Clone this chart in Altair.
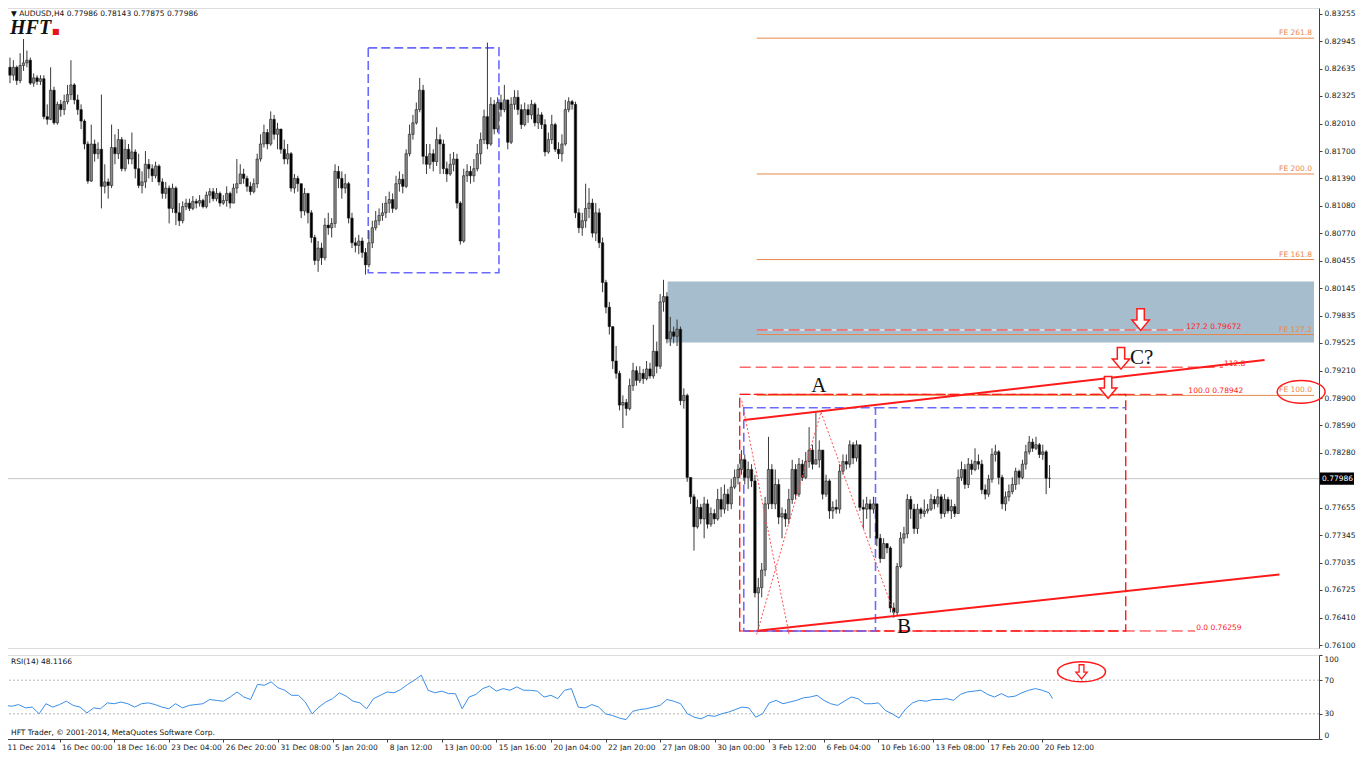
import altair as alt
import pandas as pd

# ---------------- data (AUDUSD, H4) ----------------
# prices are given in pips (price * 10000); open of each bar = previous close
first_open = 8265
close_pips = [
    8256, 8265, 8250, 8267, 8270, 8273, 8247, 8253, 8249, 8252,
    8209, 8206, 8239, 8202, 8223, 8217, 8226, 8234, 8245, 8228,
    8217, 8204, 8178, 8136, 8178, 8167, 8172, 8130, 8135, 8131,
    8174, 8167, 8183, 8150, 8172, 8161, 8169, 8150, 8131, 8135,
    8155, 8150, 8142, 8153, 8135, 8122, 8128, 8105, 8128, 8100,
    8091, 8107, 8111, 8105, 8113, 8111, 8114, 8107, 8120, 8124,
    8116, 8122, 8111, 8114, 8122, 8111, 8128, 8133, 8144, 8139,
    8130, 8124, 8133, 8161, 8178, 8191, 8178, 8206, 8189, 8195,
    8172, 8161, 8167, 8128, 8139, 8133, 8102, 8122, 8100, 8072,
    8046, 8060, 8049, 8086, 8083, 8088, 8147, 8139, 8128, 8133,
    8094, 8066, 8063, 8068, 8055, 8041, 8066, 8083, 8091, 8097,
    8100, 8111, 8115, 8105, 8133, 8138, 8130, 8167, 8189, 8202,
    8217, 8239, 8164, 8155, 8167, 8158, 8183, 8178, 8150, 8144,
    8155, 8161, 8111, 8068, 8142, 8147, 8142, 8150, 8167, 8183,
    8209, 8178, 8223, 8195, 8225, 8217, 8228, 8180, 8223, 8231,
    8217, 8200, 8217, 8211, 8223, 8202, 8211, 8200, 8169, 8183,
    8200, 8172, 8167, 8178, 8217, 8226, 8223, 8100, 8083, 8091,
    8105, 8111, 8077, 8100, 8066, 8021, 7993, 7971, 7932, 7918,
    7882, 7885, 7878, 7904, 7921, 7910, 7918, 7912, 7923, 7915,
    7943, 7926, 7999, 8005, 7957, 7965, 7960, 7968, 7887, 7893,
    7800, 7778, 7744, 7766, 7753, 7770, 7747, 7759, 7753, 7775,
    7764, 7781, 7770, 7789, 7800, 7809, 7820, 7800, 7809, 7796,
    7669, 7675, 7695, 7770, 7809, 7770, 7792, 7755, 7759, 7753,
    7775, 7809, 7781, 7815, 7800, 7818, 7831, 7815, 7820, 7831,
    7781, 7796, 7762, 7766, 7764, 7807, 7818, 7815, 7837, 7822,
    7837, 7766, 7764, 7770, 7764, 7770, 7731, 7708, 7725, 7720,
    7652, 7647, 7699, 7731, 7736, 7775, 7764, 7742, 7764, 7759,
    7762, 7764, 7775, 7770, 7778, 7759, 7775, 7762, 7767, 7759,
    7800, 7809, 7792, 7815, 7809, 7818, 7815, 7786, 7781, 7798,
    7826, 7829, 7800, 7770, 7778, 7784, 7792, 7807, 7800, 7815,
    7829, 7840, 7833, 7837, 7826, 7829, 7799, 7799,
]
high_pips = [
    8276, 8273, 8267, 8281, 8297, 8284, 8276, 8258, 8256, 8256,
    8256, 8223, 8265, 8243, 8226, 8228, 8234, 8245, 8273, 8247,
    8234, 8223, 8206, 8181, 8200, 8183, 8180, 8234, 8155, 8139,
    8200, 8189, 8195, 8186, 8183, 8178, 8191, 8172, 8167, 8147,
    8170, 8161, 8155, 8158, 8155, 8139, 8135, 8131, 8133, 8130,
    8111, 8113, 8116, 8116, 8119, 8116, 8120, 8116, 8124, 8128,
    8128, 8128, 8124, 8120, 8130, 8124, 8133, 8161, 8155, 8150,
    8142, 8135, 8139, 8167, 8189, 8200, 8195, 8215, 8211, 8202,
    8195, 8183, 8178, 8169, 8144, 8142, 8133, 8128, 8116, 8103,
    8075, 8068, 8066, 8094, 8100, 8094, 8155, 8153, 8147, 8144,
    8135, 8100, 8072, 8075, 8072, 8060, 8080, 8091, 8102, 8105,
    8111, 8119, 8124, 8122, 8142, 8147, 8144, 8172, 8200, 8211,
    8225, 8253, 8245, 8178, 8178, 8172, 8197, 8189, 8183, 8158,
    8167, 8169, 8167, 8113, 8150, 8155, 8153, 8161, 8178, 8191,
    8217, 8293, 8231, 8228, 8231, 8234, 8245, 8228, 8231, 8239,
    8239, 8223, 8225, 8223, 8228, 8225, 8219, 8214, 8206, 8191,
    8211, 8202, 8180, 8189, 8228, 8231, 8228, 8226, 8105, 8100,
    8133, 8128, 8116, 8111, 8105, 8072, 8024, 7999, 7971, 7949,
    7921, 7893, 7889, 7912, 7930, 7926, 7926, 7923, 7932, 7930,
    7973, 7954, 8008, 8024, 8010, 7982, 7971, 7979, 7971, 7901,
    7895, 7800, 7781, 7775, 7770, 7778, 7775, 7766, 7764, 7787,
    7789, 7792, 7787, 7798, 7809, 7815, 7831, 7826, 7818, 7815,
    7803, 7686, 7703, 7778, 7846, 7815, 7809, 7798, 7766, 7764,
    7787, 7820, 7815, 7822, 7820, 7829, 7857, 7837, 7874, 7842,
    7831, 7803, 7798, 7773, 7775, 7815, 7826, 7826, 7842, 7840,
    7842, 7837, 7775, 7778, 7775, 7778, 7770, 7736, 7731, 7725,
    7722, 7658, 7703, 7738, 7744, 7781, 7779, 7770, 7770, 7766,
    7775, 7770, 7781, 7779, 7787, 7781, 7781, 7778, 7775, 7770,
    7809, 7818, 7815, 7822, 7820, 7833, 7826, 7820, 7792, 7803,
    7833, 7837, 7831, 7803, 7784, 7792, 7800, 7811, 7809, 7820,
    7837, 7847, 7844, 7846, 7839, 7837, 7831, 7814,
]
low_pips = [
    8247, 8250, 8245, 8247, 8261, 8265, 8245, 8243, 8245, 8245,
    8206, 8200, 8205, 8200, 8200, 8209, 8211, 8223, 8228, 8223,
    8211, 8195, 8172, 8133, 8135, 8158, 8161, 8105, 8122, 8116,
    8128, 8155, 8161, 8147, 8147, 8155, 8155, 8139, 8128, 8122,
    8128, 8139, 8135, 8139, 8131, 8116, 8116, 8088, 8100, 8086,
    8085, 8088, 8103, 8102, 8103, 8105, 8107, 8105, 8105, 8111,
    8113, 8113, 8107, 8109, 8107, 8105, 8111, 8122, 8133, 8133,
    8124, 8120, 8122, 8128, 8158, 8174, 8172, 8176, 8183, 8172,
    8167, 8155, 8155, 8124, 8122, 8124, 8094, 8097, 8088, 8066,
    8041, 8033, 8041, 8046, 8075, 8072, 8083, 8128, 8116, 8122,
    8088, 8060, 8055, 8053, 8049, 8030, 8038, 8060, 8080, 8086,
    8091, 8094, 8100, 8100, 8103, 8124, 8122, 8128, 8164, 8183,
    8200, 8214, 8155, 8144, 8150, 8147, 8153, 8144, 8144, 8135,
    8142, 8147, 8105, 8064, 8066, 8135, 8133, 8135, 8147, 8155,
    8178, 8172, 8176, 8189, 8191, 8209, 8214, 8172, 8178, 8217,
    8211, 8195, 8198, 8202, 8206, 8198, 8195, 8195, 8164, 8167,
    8178, 8169, 8161, 8158, 8176, 8214, 8217, 8094, 8077, 8074,
    8083, 8094, 8072, 8068, 8060, 8010, 7986, 7962, 7923, 7912,
    7876, 7856, 7870, 7876, 7898, 7904, 7907, 7906, 7910, 7912,
    7912, 7918, 7923, 7988, 7952, 7949, 7952, 7949, 7882, 7878,
    7795, 7770, 7717, 7742, 7747, 7731, 7742, 7744, 7747, 7751,
    7755, 7759, 7762, 7764, 7787, 7792, 7803, 7792, 7787, 7789,
    7664, 7626, 7664, 7688, 7764, 7764, 7764, 7747, 7731, 7744,
    7747, 7770, 7775, 7778, 7796, 7798, 7811, 7809, 7815, 7811,
    7775, 7778, 7753, 7753, 7759, 7759, 7803, 7809, 7811, 7815,
    7818, 7762, 7742, 7753, 7731, 7759, 7722, 7703, 7708, 7714,
    7647, 7641, 7644, 7697, 7725, 7731, 7753, 7736, 7736, 7753,
    7755, 7759, 7762, 7764, 7766, 7753, 7755, 7759, 7753, 7755,
    7759, 7796, 7787, 7788, 7803, 7807, 7809, 7781, 7775, 7778,
    7794, 7818, 7792, 7764, 7762, 7773, 7781, 7786, 7792, 7798,
    7809, 7826, 7829, 7831, 7822, 7820, 7781, 7788,
]
# RSI(14), read every second bar (last value at the last bar)
rsi_values = [
    40, 39, 41, 37, 38, 30, 42, 38, 41, 45, 40, 38, 31, 37, 36, 43, 42, 44, 42, 38,
    42, 43, 41, 38, 36, 42, 37, 40, 41, 42, 47, 46, 45, 50, 56, 50, 47, 65, 64, 68,
    61, 58, 52, 52, 44, 30, 38, 44, 48, 55, 51, 45, 43, 36, 48, 52, 56, 55, 59, 65,
    70, 76, 58, 55, 57, 54, 54, 36, 50, 53, 60, 63, 57, 60, 58, 62, 58, 58, 57, 50,
    52, 48, 58, 60, 38, 37, 41, 38, 30, 28, 25, 23, 33, 35, 36, 38, 40, 47, 45, 42,
    30, 26, 24, 28, 27, 30, 32, 35, 38, 37, 26, 30, 43, 46, 42, 44, 46, 49, 50, 52,
    46, 42, 40, 45, 50, 48, 42, 42, 43, 34, 30, 25, 36, 43, 46, 45, 47, 47, 48, 46,
    53, 56, 57, 58, 53, 50, 54, 50, 51, 55, 58, 60, 58, 55, 48.1166,
]
time_labels = ["11 Dec 2014", "16 Dec 00:00", "18 Dec 16:00", "23 Dec 04:00", "26 Dec 20:00",
               "31 Dec 08:00", "5 Jan 20:00", "8 Jan 12:00", "13 Jan 00:00", "15 Jan 16:00",
               "20 Jan 04:00", "22 Jan 20:00", "27 Jan 08:00", "30 Jan 00:00", "3 Feb 12:00",
               "6 Feb 04:00", "10 Feb 16:00", "13 Feb 08:00", "17 Feb 20:00", "20 Feb 12:00"]
bars_per_label = 16
price_ticks = [0.83255, 0.82945, 0.82635, 0.82325, 0.82010, 0.81700, 0.81390, 0.81080,
               0.80770, 0.80455, 0.80145, 0.79835, 0.79525, 0.79210, 0.78900, 0.78590,
               0.78280, 0.77655, 0.77345, 0.77035, 0.76725, 0.76410, 0.76100]
last_price = 0.77986

# Fibonacci expansion (orange) levels
fe_levels = [0.8298, 0.8144, 0.8047, 0.7962, 0.7893]
fe_names = ["FE 261.8", "FE 200.0", "FE 161.8", "FE 127.2", "FE 100.0"]
fe_start_bar = 220.5
# red Fibonacci levels
fib_levels = [0.79672, 0.7925, 0.78942, 0.76259]
fib_names = ["127.2   0.79672", "112.8", "100.0   0.78942", "0.0   0.76259"]
fib_start_bar = [220.5, 215.5, 215.5, 215.5]
fib_label_bar = [347.1, 358.2, 347.7, 350.0]
# annotation objects, in (bar, price)
zone = dict(x1=194.2, y1=0.7953, y2=0.8022)
blue_box1 = dict(x1=105.8, x2=144.4, y1=0.8032, y2=0.8287)
blue_box2 = dict(x1=216.7, x2=255.6, y1=0.76259, y2=0.7879)
blue_top_ext = dict(x1=255.6, x2=329.5, y=0.7879)
red_box = dict(x1=215.5, x2=329.5, y1=0.76259, y2=0.78942)
channel_x1 = [216.7, 220.5]
channel_y1 = [0.7865, 0.7626]
channel_x2 = [370.5, 374.9]
channel_y2 = [0.7933, 0.7690]
zig_x1 = [216.1, 220.5, 239.5]
zig_y1 = [0.7887, 0.7622, 0.7874]
zig_x2 = [230.1, 239.5, 261.4]
zig_y2 = [0.7622, 0.7874, 0.7643]
arrow_bars = [333.9, 328.1, 324.3]
arrow_prices = [0.7979, 0.7935, 0.7902]
wave_names = ["A", "B", "C?"]
wave_bars = [238.9, 264.0, 334.2]
wave_prices = [0.7904, 0.7630, 0.7935]
ellipse_bar, ellipse_price = 381.3, 0.7897
rsi_mark_bar, rsi_mark_value = 315.5, 80

# ---------------- layout ----------------
W = 1315
H_MAIN = 640
H_RSI = 84
X_DOM = [-0.29, 385.1]
Y_DOM = [0.76066, 0.83322]
FONT = "DejaVu Sans"
RED = "#ff1a1a"
ORANGE = "#e8894a"
BLUE = "#6a6aff"

xs = alt.Scale(domain=X_DOM, nice=False, zero=False)
ys = alt.Scale(domain=Y_DOM, nice=False, zero=False)
yaxis = alt.Axis(orient="right", values=price_ticks, format=".5f", title=None, grid=False,
                 labelFont=FONT, labelFontSize=7.5, labelColor="#1a1a1a", labelPadding=2,
                 tickSize=3, tickColor="#404040", domainColor="#404040", labelOverlap=False)


def X(f):
    return alt.X(f, type="quantitative", scale=xs, axis=None)


def Y(f):
    return alt.Y(f, type="quantitative", scale=ys, axis=yaxis)


# candles
opens = [first_open] + close_pips[:-1]
rows = []
for i in range(len(close_pips)):
    o = opens[i] / 1e4
    c = close_pips[i] / 1e4
    rows.append(dict(i=i, open=o, close=c,
                     high=max(high_pips[i] / 1e4, o, c), low=min(low_pips[i] / 1e4, o, c),
                     dir="up" if c >= o else "down"))
candles = pd.DataFrame(rows)

layers = []
zone_df = pd.DataFrame([dict(zone, x2=X_DOM[1])])
layers.append(alt.Chart(zone_df).mark_rect(color="#a6bdcd").encode(
    x=X("x1"), x2="x2", y=Y("y1"), y2="y2"))
layers.append(alt.Chart(pd.DataFrame({"y": [last_price]})).mark_rule(
    color="#c4c4c4", strokeWidth=1).encode(y=Y("y")))

fe_df = pd.DataFrame({"y": fe_levels, "name": fe_names, "x1": fe_start_bar, "x2": X_DOM[1]})
layers.append(alt.Chart(fe_df).mark_rule(color=ORANGE, strokeWidth=1).encode(
    x=X("x1"), x2="x2", y=Y("y")))
layers.append(alt.Chart(fe_df).mark_text(color=ORANGE, font=FONT, fontSize=7.5, align="right",
                                         baseline="bottom", dx=-2, dy=-1).encode(
    x=X("x2"), y=Y("y"), text="name"))

fib_df = pd.DataFrame({"y": fib_levels, "name": fib_names, "x1": fib_start_bar, "x2": fib_label_bar})
layers.append(alt.Chart(fib_df).mark_rule(color="white", strokeWidth=1).encode(
    x=X("x1"), x2="x2", y=Y("y")))
layers.append(alt.Chart(fib_df).mark_rule(color=RED, strokeWidth=1, strokeDash=[11, 5]).encode(
    x=X("x1"), x2="x2", y=Y("y")))
layers.append(alt.Chart(fib_df).mark_text(color=RED, font=FONT, fontSize=7.5, align="left",
                                          baseline="bottom", dx=1, dy=1).encode(
    x=X("x2"), y=Y("y"), text="name"))

layers.append(alt.Chart(pd.DataFrame([red_box])).mark_rect(
    fillOpacity=0, stroke=RED, strokeWidth=1.4, strokeDash=[10, 4]).encode(
    x=X("x1"), x2="x2", y=Y("y1"), y2="y2"))
layers.append(alt.Chart(pd.DataFrame([blue_box1, blue_box2])).mark_rect(
    fillOpacity=0, stroke=BLUE, strokeWidth=1.6, strokeDash=[9, 4]).encode(
    x=X("x1"), x2="x2", y=Y("y1"), y2="y2"))
layers.append(alt.Chart(pd.DataFrame([blue_top_ext])).mark_rule(
    color=BLUE, strokeWidth=1.6, strokeDash=[9, 4]).encode(x=X("x1"), x2="x2", y=Y("y")))

# candles
layers.append(alt.Chart(candles).mark_rule(color="#3a3a3a", strokeWidth=1).encode(
    x=X("i"), y=Y("low"), y2="high"))
layers.append(alt.Chart(candles).mark_bar(size=2.4, stroke="#1e1e1e", strokeWidth=0.6).encode(
    x=X("i"), y=Y("open"), y2="close",
    color=alt.Color("dir:N", scale=alt.Scale(domain=["up", "down"], range=["#8a8a8a", "#000000"]),
                    legend=None)))

ch_df = pd.DataFrame({"x1": channel_x1, "y1": channel_y1, "x2": channel_x2, "y2": channel_y2})
layers.append(alt.Chart(ch_df).mark_rule(color=RED, strokeWidth=2).encode(
    x=X("x1"), y=Y("y1"), x2="x2", y2="y2"))
zz_df = pd.DataFrame({"x1": zig_x1, "y1": zig_y1, "x2": zig_x2, "y2": zig_y2})
layers.append(alt.Chart(zz_df).mark_rule(color="#ff4d4d", strokeWidth=1, strokeDash=[2, 2]).encode(
    x=X("x1"), y=Y("y1"), x2="x2", y2="y2"))

arrow_path = "M -0.34 -1 L 0.34 -1 L 0.34 0.05 L 0.8 0.05 L 0 1 L -0.8 0.05 L -0.34 0.05 Z"
ellipse_path = "M -1 0 A 1 0.47 0 1 1 1 0 A 1 0.47 0 1 1 -1 0 Z"
ar_df = pd.DataFrame({"x": arrow_bars, "y": arrow_prices})
layers.append(alt.Chart(ar_df).mark_point(shape=arrow_path, size=470, filled=True, fill="white",
                                          stroke=RED, strokeWidth=1.5, opacity=1).encode(
    x=X("x"), y=Y("y")))
layers.append(alt.Chart(pd.DataFrame({"x": [ellipse_bar], "y": [ellipse_price]})).mark_point(
    shape=ellipse_path, size=2300, filled=False, stroke=RED, strokeWidth=1.5, opacity=1).encode(
    x=X("x"), y=Y("y")))
wv_df = pd.DataFrame({"x": wave_bars, "y": wave_prices, "t": wave_names})
layers.append(alt.Chart(wv_df).mark_text(font="Liberation Serif", fontSize=21, color="#111111",
                                         baseline="middle").encode(x=X("x"), y=Y("y"), text="t"))

# last price tag on the price axis
lp_df = pd.DataFrame({"y": [last_price], "t": ["%.5f" % last_price]})
tag_path = "M -1 -0.36 L 1 -0.36 L 1 0.36 L -1 0.36 Z"
layers.append(alt.Chart(lp_df).mark_point(shape=tag_path, size=1156, filled=True, color="black",
                                          opacity=1).encode(x=alt.value(W + 18), y=Y("y")))
layers.append(alt.Chart(lp_df).mark_text(color="white", font=FONT, fontSize=7.5, align="left",
                                         baseline="middle").encode(
    x=alt.value(W + 3), y=Y("y"), text="t"))

# header and logo
hdr = pd.DataFrame({"t": ["\u25bc AUDUSD,H4  0.77986 0.78143 0.77875 0.77986"]})
layers.append(alt.Chart(hdr).mark_text(font=FONT, fontSize=7.5, color="#111111", align="left",
                                       baseline="top").encode(
    x=alt.value(7), y=alt.value(1.5), text="t"))
logo = pd.DataFrame({"t": ["HFT"]})
layers.append(alt.Chart(logo).mark_text(font="Liberation Serif", fontSize=20, fontStyle="italic",
                                        fontWeight="bold", color="#111111", align="left",
                                        baseline="alphabetic").encode(
    x=alt.value(6), y=alt.value(26), text="t"))
layers.append(alt.Chart(pd.DataFrame({"t": ["\u25a0"]})).mark_text(
    font=FONT, fontSize=8, color="#e8141b", align="left", baseline="alphabetic").encode(
    x=alt.value(48), y=alt.value(26), text="t"))

main = alt.layer(*layers).properties(width=W, height=H_MAIN)

# ---------------- RSI panel ----------------
rsi_idx = list(range(0, len(close_pips) - 1, 2)) + [len(close_pips) - 1]
rsi_df = pd.DataFrame({"i": rsi_idx, "rsi": rsi_values})
tick_bars = [k * bars_per_label for k in range(len(time_labels))]
label_expr = "[" + ",".join("'%s'" % s for s in time_labels) + "][round(datum.value/%d)]" % bars_per_label
xaxis = alt.Axis(values=tick_bars, labelExpr=label_expr, title=None, grid=False, labelFont=FONT,
                 labelFontSize=7.5, labelColor="#1a1a1a", labelAlign="left", labelPadding=1,
                 labelOffset=2, tickSize=3, tickColor="#404040", domainColor="#404040",
                 labelOverlap=False, labelFlush=False, labelBound=False)
rs = alt.Scale(domain=[0, 100], nice=False, zero=False)
raxis = alt.Axis(orient="right", values=[0, 30, 70, 100], title=None, grid=False, labelFont=FONT,
                 labelFontSize=7.5, labelColor="#1a1a1a", labelPadding=2, tickSize=3,
                 tickColor="#404040", domainColor="#404040", labelFlush=True)


def RX(f):
    return alt.X(f, type="quantitative", scale=xs, axis=xaxis)


def RY(f):
    return alt.Y(f, type="quantitative", scale=rs, axis=raxis)


rl = []
rl.append(alt.Chart(pd.DataFrame({"v": [70, 30]})).mark_rule(
    color="#b4b4b4", strokeDash=[2, 2], strokeWidth=1).encode(y=RY("v")))
rl.append(alt.Chart(rsi_df).mark_line(color="#3a8ee8", strokeWidth=1).encode(x=RX("i"), y=RY("rsi")))
rl.append(alt.Chart(pd.DataFrame({"x": [rsi_mark_bar], "y": [rsi_mark_value]})).mark_point(
    shape="M -1 0 A 1 0.42 0 1 1 1 0 A 1 0.42 0 1 1 -1 0 Z", size=2300, filled=False, stroke=RED,
    strokeWidth=1.5, opacity=1).encode(x=RX("x"), y=RY("y")))
rl.append(alt.Chart(pd.DataFrame({"x": [rsi_mark_bar], "y": [rsi_mark_value]})).mark_point(
    shape=arrow_path, size=200, filled=True, fill="white", stroke=RED, strokeWidth=1.3,
    opacity=1).encode(x=RX("x"), y=RY("y")))
rl.append(alt.Chart(pd.DataFrame({"t": ["RSI(14) 48.1166"]})).mark_text(
    font=FONT, fontSize=7.5, color="#111111", align="left", baseline="middle").encode(
    x=alt.value(7), y=alt.value(7), text="t"))
rl.append(alt.Chart(pd.DataFrame({"t": ["HFT Trader, \u00a9 2001-2014, MetaQuotes Software Corp."]})).mark_text(
    font=FONT, fontSize=7.5, color="#111111", align="left", baseline="middle").encode(
    x=alt.value(7), y=alt.value(H_RSI - 6), text="t"))

rsi_chart = alt.layer(*rl).properties(width=W, height=H_RSI)

chart = alt.vconcat(main, rsi_chart, spacing=4).properties(
    padding={"left": -6, "top": -1, "right": 0, "bottom": 0}
).configure_view(stroke="#505050", strokeWidth=1).configure(background="white")

chart.save("out.html", embed_options={"renderer": "svg", "actions": False})
